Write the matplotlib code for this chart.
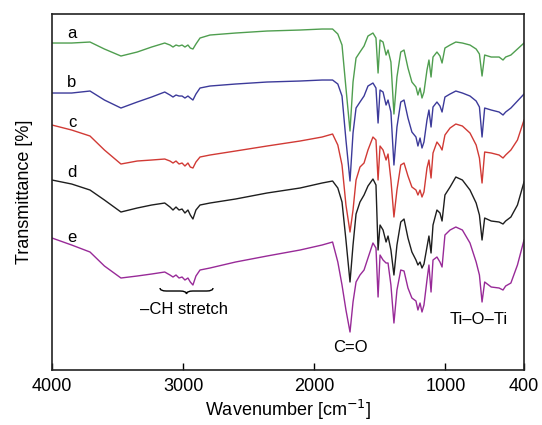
import matplotlib
matplotlib.use("Agg")
import matplotlib.pyplot as plt
from matplotlib.path import Path
from matplotlib.patches import PathPatch

plt.rcParams["font.family"] = ["Liberation Sans", "DejaVu Sans"]

# wavenumber knots shared by all spectra (cm^-1)
wavenumber = [
    4000, 3850, 3710, 3600, 3474, 3350, 3240, 3140, 3100, 3077,
    3054, 3031, 3008, 2986, 2963, 2945, 2925, 2902, 2871, 2795,
    2600, 2360, 2108, 1940, 1860, 1820, 1788, 1758, 1727, 1704,
    1681, 1651, 1620, 1590, 1552, 1529, 1513, 1498, 1475, 1452,
    1437, 1415, 1392, 1369, 1340, 1315, 1285, 1255, 1224, 1209,
    1193, 1178, 1163, 1140, 1125, 1109, 1094, 1064, 1041, 1025,
    1003, 964, 920, 870, 812, 765, 740, 720, 700, 650,
    590, 560, 540, 500, 450, 400,
]

# offset transmittance (a.u.), one list per sample
trans_a = [
    327, 327, 328, 321, 314, 318, 323, 327, 325, 323,
    325, 324, 325, 323, 325, 322, 321, 326, 332, 335,
    337, 339, 340, 341, 341, 336, 325, 282, 239, 288,
    312, 318, 324, 334, 337, 332, 297, 330, 328, 315,
    320, 308, 256, 293, 318, 320, 302, 288, 283, 275,
    282, 272, 278, 300, 310, 293, 313, 318, 314, 307,
    322, 325, 328, 327, 325, 321, 316, 294, 315, 313,
    313, 310, 313, 315, 321, 327,
]
trans_b = [
    277, 277, 279, 270, 262, 268, 273, 278, 275, 273,
    275, 274, 274, 272, 274, 272, 270, 276, 282, 284,
    286, 288, 289, 290, 290, 286, 274, 230, 189, 237,
    262, 268, 274, 284, 287, 282, 247, 280, 278, 265,
    270, 258, 205, 243, 268, 270, 252, 238, 233, 224,
    232, 222, 228, 250, 260, 243, 263, 268, 264, 258,
    273, 276, 279, 277, 274, 269, 263, 233, 262, 260,
    258, 255, 258, 262, 269, 276,
]
trans_c = [
    245, 240, 234, 220, 206, 209, 210, 211, 209, 207,
    209, 206, 207, 204, 207, 203, 202, 208, 213, 215,
    219, 224, 229, 233, 236, 225, 205, 165, 138, 160,
    190, 203, 207, 220, 233, 230, 190, 224, 220, 210,
    216, 190, 153, 180, 205, 207, 194, 183, 180, 175,
    180, 173, 178, 202, 210, 192, 217, 228, 224, 220,
    235, 242, 246, 244, 237, 225, 212, 187, 218, 217,
    215, 212, 215, 220, 230, 250,
]
trans_d = [
    190, 186, 180, 170, 158, 162, 165, 167, 163, 160,
    163, 160, 161, 157, 160, 155, 151, 160, 165, 167,
    171, 177, 182, 187, 189, 182, 168, 130, 88, 125,
    156, 168, 175, 184, 191, 185, 120, 145, 140, 128,
    134, 120, 95, 125, 148, 151, 132, 118, 110, 105,
    108, 102, 106, 123, 134, 117, 145, 160, 157, 149,
    175, 183, 193, 190, 180, 167, 155, 130, 152, 149,
    148, 146, 149, 153, 165, 188,
]
trans_e = [
    132, 125, 118, 104, 92, 94, 96, 98, 95, 93,
    95, 92, 93, 90, 92, 88, 85, 94, 100, 102,
    108, 114, 120, 125, 128, 108, 85, 60, 38, 68,
    88, 95, 100, 112, 127, 122, 73, 115, 110, 107,
    107, 85, 47, 80, 100, 99, 82, 72, 69, 60,
    67, 58, 65, 90, 105, 78, 110, 113, 108, 103,
    135, 140, 143, 140, 127, 108, 95, 68, 88, 83,
    82, 80, 84, 87, 105, 130,
]

series = [
    ("a", trans_a, "#4f9e4f"),
    ("b", trans_b, "#3c3a9a"),
    ("c", trans_c, "#d13a35"),
    ("d", trans_d, "#1e1e1e"),
    ("e", trans_e, "#982a98"),
]
# where each curve letter sits (wavenumber, a.u.)
letter_pos = [(3847, 337), (3847, 288), (3847, 248), (3847, 198), (3847, 133)]


def curly_brace(ax, x0, x1, y, height, color="black"):
    """Horizontal curly brace opening upward, tip pointing down."""
    xm = 0.5 * (x0 + x1)
    d = 0.12 * (x1 - x0)  # signed, points from x0 toward x1
    verts = [
        (x0, y + height), (x0, y), (x0 + d, y),
        (xm - d, y), (xm, y), (xm, y - height),
        (xm, y), (xm + d, y),
        (x1 - d, y), (x1, y), (x1, y + height),
    ]
    codes = [
        Path.MOVETO, Path.CURVE3, Path.CURVE3,
        Path.LINETO, Path.CURVE3, Path.CURVE3,
        Path.CURVE3, Path.CURVE3,
        Path.LINETO, Path.CURVE3, Path.CURVE3,
    ]
    ax.add_patch(PathPatch(Path(verts, codes), facecolor="none",
                           edgecolor=color, linewidth=1.0))


fig = plt.figure(figsize=(5.42, 4.25), dpi=100)
ax = fig.add_axes([0.0959, 0.1294, 0.8709, 0.8376])

for (label, values, color), (lx, ly) in zip(series, letter_pos):
    ax.plot(wavenumber, values, color=color, linewidth=1.0)
    ax.text(lx, ly, label, fontsize=12, ha="center", va="center")

curly_brace(ax, 3176, 2772, 79, 3)
ax.text(2990, 61, "\u2013CH stretch", fontsize=12, ha="center", va="center")
ax.text(1720, 23, "C=O", fontsize=12, ha="center", va="center")
ax.text(745, 51, "Ti\u2013O\u2013Ti", fontsize=12, ha="center", va="center")

ax.set_xlim(4000, 400)
ax.set_ylim(0, 356)
ax.set_xticks([4000, 3000, 2000, 1000, 400])
ax.set_xticklabels(["4000", "3000", "2000", "1000", "400"])
ax.set_yticks([])
ax.tick_params(axis="x", direction="in", length=5, width=1.0, labelsize=13, pad=6)
for spine in ax.spines.values():
    spine.set_linewidth(1.2)
    spine.set_color("#222222")

ax.set_xlabel("Wavenumber [cm$^{-1}$]", fontsize=13, labelpad=2)
ax.set_ylabel("Transmittance [%]", fontsize=13, labelpad=14)

fig.savefig("out.png", dpi=100)
